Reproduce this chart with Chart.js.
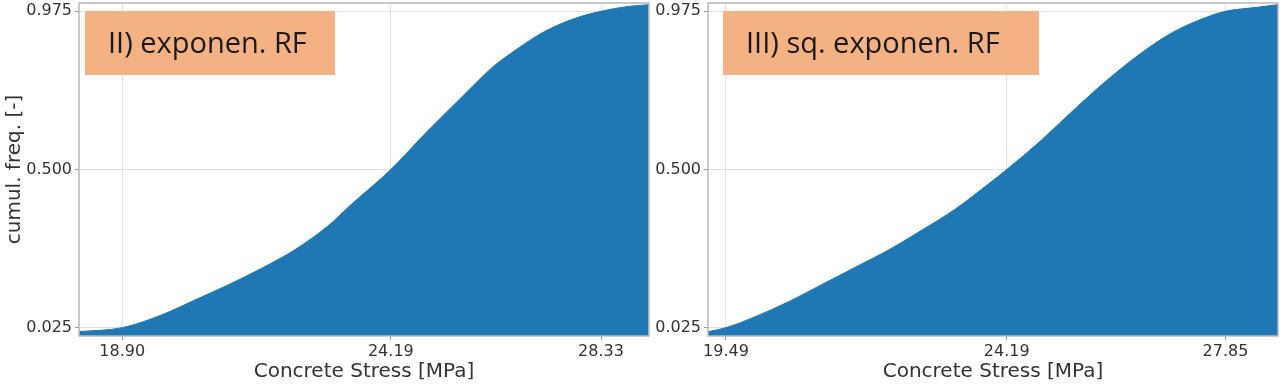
<!DOCTYPE html>
<html>
<head>
<meta charset="utf-8">
<script src="https://cdn.jsdelivr.net/npm/chart.js@4"></script>
<style>
    body { margin: 0; background: #fff; }
    #wrap { position: relative; width: 1280px; height: 385px; }
    canvas { position: absolute; top: 0; }
</style>
</head>
<body>
<div id="wrap">
    <canvas id="leftChart" width="650" height="385" style="left:0"></canvas>
    <canvas id="rightChart" width="630" height="385" style="left:650px"></canvas>
</div>
<script>
// values
var leftStress = [18.05, 18.90, 19.67, 20.33, 20.98, 21.64, 22.29, 22.95, 23.41, 24.19, 24.89, 25.55, 26.20, 26.66, 27.19, 27.78, 28.33, 28.83, 29.27];
var leftFreq = [0.013, 0.025, 0.063, 0.108, 0.153, 0.203, 0.258, 0.330, 0.395, 0.500, 0.612, 0.712, 0.808, 0.860, 0.912, 0.952, 0.975, 0.989, 0.995];

var rightStress = [19.19, 19.49, 19.98, 20.54, 21.10, 21.65, 22.21, 22.77, 23.32, 23.91, 24.19, 24.75, 25.30, 25.86, 26.42, 26.97, 27.53, 27.85, 28.37, 28.73];
var rightFreq = [0.013, 0.025, 0.058, 0.103, 0.155, 0.206, 0.258, 0.318, 0.380, 0.460, 0.500, 0.585, 0.677, 0.767, 0.847, 0.912, 0.957, 0.975, 0.987, 0.995];

// tick labels
var yTicks = [0.025, 0.500, 0.975];
var leftXTicks = [18.90, 24.19, 28.33];
var rightXTicks = [19.49, 24.19, 27.85];

var leftLabel = 'II) exponen. RF';
var rightLabel = 'III) sq. exponen. RF';
var xTitle = 'Concrete Stress [MPa]';
var yTitle = 'cumul. freq. [-]';

// frame around the plot area and the orange label box
var panelDecor = {
    id: 'panelDecor',
    afterDraw: function (chart, args, opts) {
        var a = chart.chartArea;
        var ctx = chart.ctx;
        ctx.save();
        ctx.strokeStyle = '#b8b8b8';
        ctx.lineWidth = 1.5;
        ctx.strokeRect(a.left, a.top, a.right - a.left, a.bottom - a.top);
        ctx.fillStyle = '#f4b183';
        ctx.fillRect(a.left + opts.boxX, a.top + 8, opts.boxW, 64);
        ctx.fillStyle = '#1a1a1a';
        ctx.font = '29px "Open Sans"';
        ctx.textBaseline = 'alphabetic';
        ctx.fillText(opts.text, a.left + opts.boxX + 23, a.top + 50);
        ctx.restore();
    }
};

function makeChart(id, stress, freq, xTicks, xMin, xMax, label, boxX, boxW, yAxisWidth, padRight, showYTitle) {
    var points = stress.map(function (s, i) { return { x: s, y: freq[i] }; });
    var tickFont = { family: '"DejaVu Sans"', size: 16 };
    var titleFont = { family: '"DejaVu Sans"', size: 20 };
    var gridColor = 'rgba(190, 190, 190, 0.45)';

    return new Chart(document.getElementById(id).getContext('2d'), {
        type: 'line',
        data: {
            datasets: [{
                data: points,
                borderColor: '#1f77b4',
                backgroundColor: '#1f77b4',
                borderWidth: 1,
                pointRadius: 0,
                fill: 'start',
                cubicInterpolationMode: 'monotone'
            }]
        },
        options: {
            responsive: false,
            animation: false,
            layout: { padding: { top: 3, right: padRight, bottom: 0, left: 0 } },
            plugins: {
                legend: { display: false },
                tooltip: { enabled: false },
                panelDecor: { text: label, boxX: boxX, boxW: boxW }
            },
            scales: {
                x: {
                    type: 'linear',
                    min: xMin,
                    max: xMax,
                    z: 1,
                    afterBuildTicks: function (scale) {
                        scale.ticks = xTicks.map(function (v) { return { value: v }; });
                    },
                    afterFit: function (scale) {
                        scale.height = 49;
                        scale.paddingLeft = 0;
                        scale.paddingRight = 0;
                    },
                    ticks: {
                        autoSkip: false,
                        maxRotation: 0,
                        padding: 2,
                        color: '#333',
                        font: tickFont,
                        callback: function (v) { return Number(v).toFixed(2); }
                    },
                    grid: { color: gridColor, lineWidth: 1, tickLength: 4, tickColor: '#999' },
                    border: { display: false },
                    title: { display: true, text: xTitle, color: '#333', font: titleFont, padding: { top: 0, bottom: 1 } }
                },
                y: {
                    min: 0,
                    max: 1,
                    z: 1,
                    afterBuildTicks: function (scale) {
                        scale.ticks = yTicks.map(function (v) { return { value: v }; });
                    },
                    afterFit: function (scale) {
                        scale.width = yAxisWidth;
                        scale.paddingTop = 0;
                        scale.paddingBottom = 0;
                    },
                    ticks: {
                        padding: 3,
                        color: '#333',
                        font: tickFont,
                        callback: function (v) { return Number(v).toFixed(3); }
                    },
                    grid: { color: gridColor, lineWidth: 1, tickLength: 4, tickColor: '#999' },
                    border: { display: false },
                    title: { display: showYTitle, text: yTitle, color: '#333', font: titleFont, padding: { top: 3, bottom: 0 } }
                }
            }
        },
        plugins: [panelDecor]
    });
}

document.addEventListener('DOMContentLoaded', function () {
    makeChart('leftChart', leftStress, leftFreq, leftXTicks, 18.048, 29.275, leftLabel, 6, 250, 79, 1, true);
    makeChart('rightChart', rightStress, rightFreq, rightXTicks, 19.19, 28.73, rightLabel, 15, 316, 58, 2, false);
});
</script>
</body>
</html>
